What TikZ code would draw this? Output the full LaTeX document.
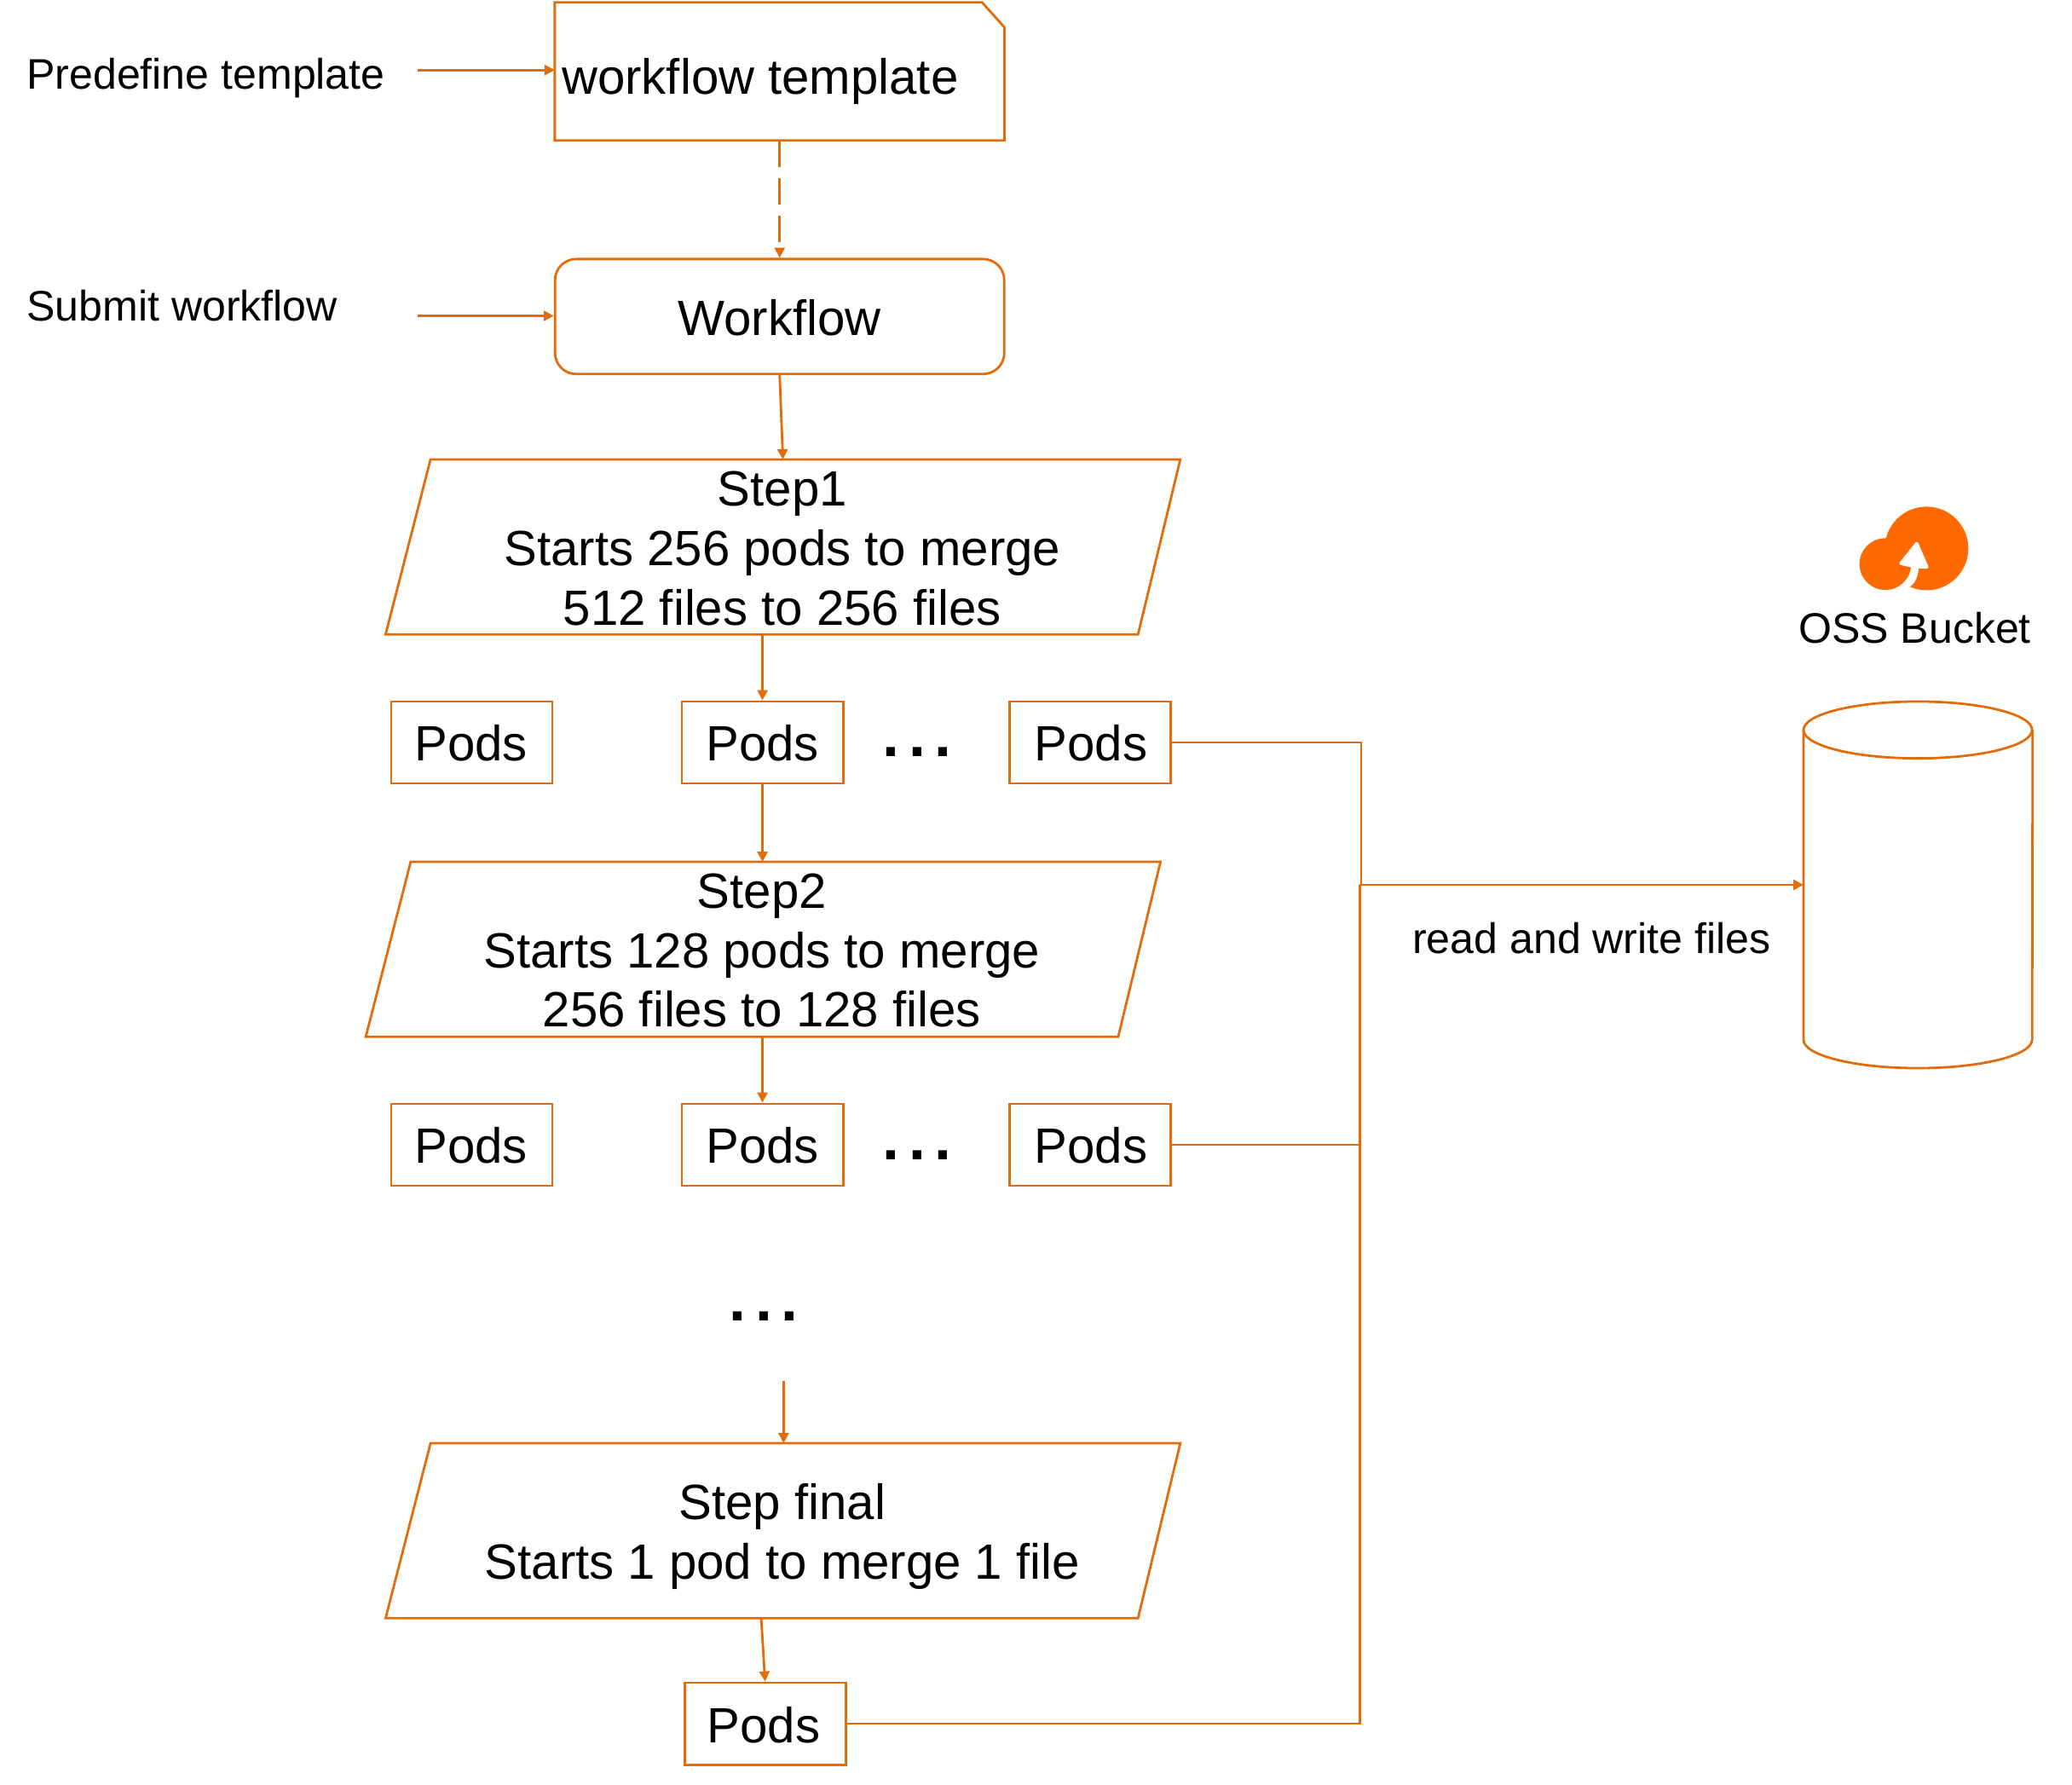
\documentclass[tikz,border=0pt]{standalone}
\usepackage{fontspec}
\setmainfont{Liberation Sans}
\usetikzlibrary{arrows.meta,calc}
\definecolor{ln}{HTML}{E36C0A}
\definecolor{ic}{HTML}{FF6A00}
\tikzset{
  lnk/.style={draw=ln,line width=1.8pt},
  arr/.style={lnk,-{Triangle[length=7.7pt,width=7.7pt]}},
  big/.style={font=\fontsize{37.5pt}{45pt}\selectfont,align=center,text=black,inner sep=0pt},
  small/.style={font=\fontsize{32.3pt}{38pt}\selectfont,text=black,inner sep=0pt},
  podbox/.style={lnk,minimum width=122pt,minimum height=62pt,inner sep=0pt},
  slot/.style={big,minimum width=601pt,minimum height=132pt},
  dots/.style={font=\fontsize{46pt}{50pt}\bfseries\selectfont,text=black,inner sep=0pt,anchor=base},
}
\newcommand{\slant}[1]{%
  \draw[lnk,line join=miter] ($(#1.north west)+(34,0)$) -- (#1.north east) -- ($(#1.south east)+(-32,0)$) -- (#1.south west) -- cycle;}
\newcommand{\threedots}{.\hspace{7pt}.\hspace{7pt}.}
\begin{document}
\begin{tikzpicture}[x=1pt,y=-1pt]
\useasboundingbox (0,0) rectangle (1568,1350);
% template
\node[big,minimum width=340pt,minimum height=104pt] (tpl) at (590,54) {};
\draw[lnk] (tpl.north west) -- ($(tpl.north east)+(-17,0)$) -- ($(tpl.north east)+(0,19)$) -- (tpl.south east) -- (tpl.south west) -- cycle;
\node[big,anchor=west] (tpltext) at (425,61.5) {workflow template};
\node[small,anchor=west] (predef) at (20,59) {Predefine template};
\coordinate (predefend) at (316,53);
\draw[arr] (predefend) -- (predefend -| tpl.west);
% workflow
\node[lnk,minimum width=340pt,minimum height=87pt,rounded corners=16pt] (wfb) at (590,239.5) {};
\node[big] (wf) at (590,240.5) {Workflow};
\node[small,anchor=west] (submit) at (20,231) {Submit workflow};
\coordinate (submitend) at (316,239);
\draw[arr] (submitend) -- (submitend -| wfb.west);
\draw[arr,dash pattern=on 20pt off 8.5pt] (tpl.south) -- (wfb.north);
% step 1
\node[slot] (s1) at (592.5,413.8) {};
\slant{s1}
\node[big] (s1t) at (592,415.2) {Step1\\Starts 256 pods to merge\\512 files to 256 files};
\draw[arr] (wfb.south) -- (s1.north);
\node[podbox] (p11) at (357,561.8) {};
\node[big] (p11t) at (356.5,562.5) {Pods};
\node[podbox] (p12) at (577,561.8) {};
\node[big] (p12t) at (577,562.5) {Pods};
\node[podbox] (p13) at (825,561.8) {};
\node[big] (p13t) at (825.5,562.5) {Pods};
\node[dots] (d1) at (694,572.7) {\threedots};
\draw[arr] (s1.south -| p12.north) -- (p12.north);
% step 2
\node[slot] (s2) at (577.5,718.3) {};
\slant{s2}
\node[big] (s2t) at (576.5,719.2) {Step2\\Starts 128 pods to merge\\256 files to 128 files};
\draw[arr] (p12.south) -- (s2.north -| p12.south);
\node[podbox] (p21) at (357,866.2) {};
\node[big] (p21t) at (356.5,867) {Pods};
\node[podbox] (p22) at (577,866.2) {};
\node[big] (p22t) at (577,867) {Pods};
\node[podbox] (p23) at (825,866.2) {};
\node[big] (p23t) at (825.5,867) {Pods};
\node[dots] (d2) at (694,877.2) {\threedots};
\draw[arr] (s2.south -| p22.north) -- (p22.north);
\node[dots] (d3) at (578,999.5) {\threedots};
% final
\node[slot] (s3) at (592.5,1158.2) {};
\slant{s3}
\node[big] (s3t) at (592,1162.5) {Step final\\Starts 1 pod to merge 1 file};
\coordinate (s3in) at (593,1045);
\draw[arr] (s3in) -- (s3in |- s3.north);
\node[podbox] (p3) at (579,1304.2) {};
\node[big] (p3t) at (578,1305) {Pods};
\coordinate (s3out) at (576,1224);
\draw[arr] (s3out) -- (p3.north);
% bucket
\node[inner sep=0pt,minimum width=173pt,minimum height=277pt] (bk) at (1451.5,669.5) {};
\draw[lnk] ($(bk.north west)+(0,21.5)$) arc[start angle=180,end angle=540,x radius=86.5pt,y radius=21.5pt];
\draw[lnk] ($(bk.north west)+(0,21.5)$) -- ($(bk.south west)+(0,-21.5)$) arc[start angle=180,end angle=360,x radius=86.5pt,y radius=21.5pt] -- ($(bk.north east)+(0,21.5)$);
\node[small] (oss) at (1449,475) {OSS Bucket};
\node[small] (rw) at (1204.5,710) {read and write files};
% icon
\begin{scope}[shift={(1322.4,361.2)},x=0.2151pt,y=-0.2151pt]
\fill[ic] (630,250) circle[radius=147];
\fill[white] (603,316) .. controls (600,350) and (590,372) .. (572,385) -- (560,410) -- (500,400) -- (540,305) -- cycle;
\fill[ic] (485,305) circle[radius=91];
\fill[white,rounded corners=2pt] (597,222) -- (640,322) -- (603,320) -- (573,316) -- (530,306) -- cycle;
\end{scope}
% bus
\coordinate (bus) at (1029,669.5);
\draw[lnk] (p13.east) -| (1030,669.5);
\draw[lnk] (p23.east) -- (p23.east -| bus);
\draw[lnk] (p3.east) -| (bus);
\draw[arr] (bus) -- (bk.west);
\end{tikzpicture}
\end{document}
